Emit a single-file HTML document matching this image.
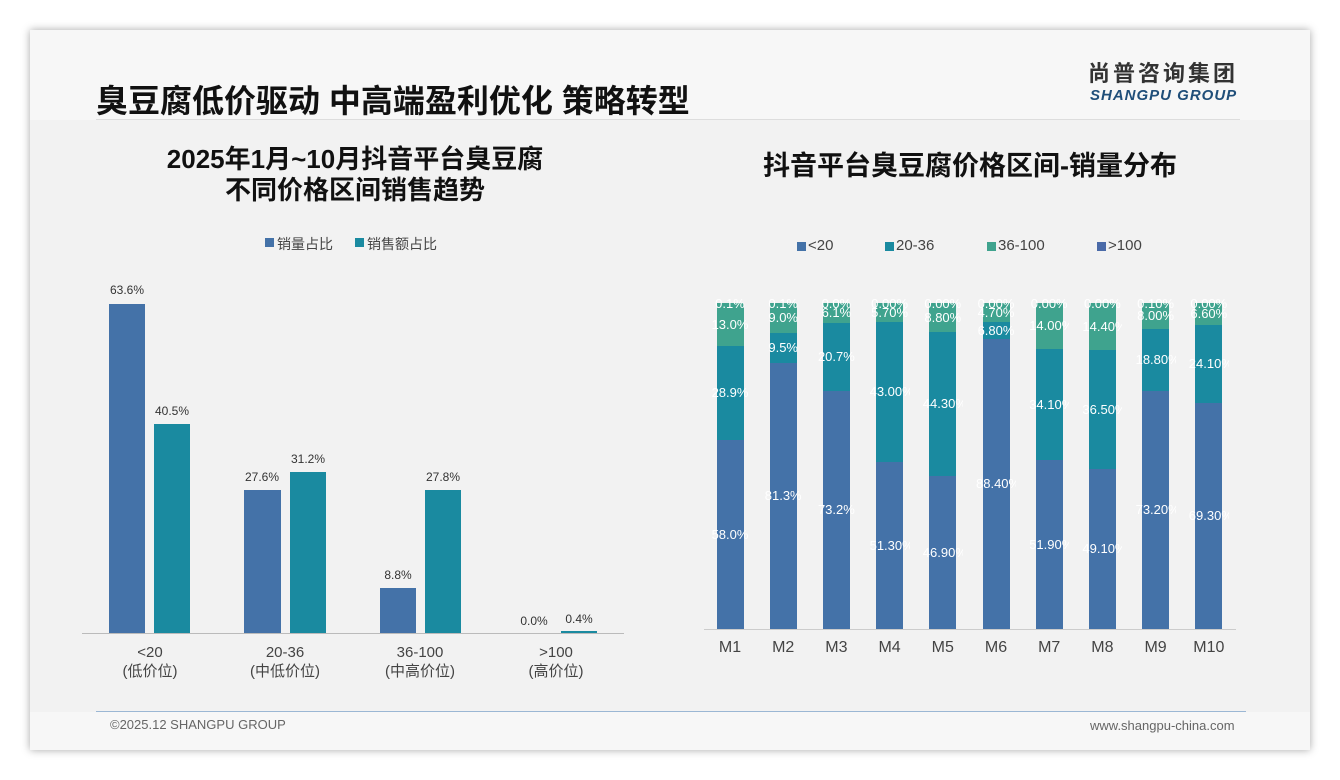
<!DOCTYPE html><html><head><meta charset="utf-8"><style>
body{margin:0;width:1340px;height:780px;background:#fff;font-family:"Liberation Sans","Noto Sans CJK SC",sans-serif;position:relative;overflow:hidden}
.a{position:absolute}
.slide{left:30px;top:30px;width:1280px;height:720px;background:#f7f7f7;box-shadow:0 0 8px rgba(0,0,0,.35)}
.t{white-space:nowrap}
.lbl{font-size:12px;color:#333;text-align:center;width:60px}
.x{font-size:15px;color:#444;text-align:center;width:80px;line-height:19px}
.w{color:#fff;font-size:13px;text-align:center;width:40px;overflow:hidden}
</style></head><body>
<div class="a slide"></div>
<div class="a" style="left:30px;top:120px;width:1280px;height:592px;background:#f2f2f2"></div>
<div class="a t" style="left:96px;top:76px;font-size:32px;font-weight:bold;color:#111">臭豆腐低价驱动 中高端盈利优化 策略转型</div>
<div class="a t" style="left:1088px;top:61px;font-size:22px;line-height:26px;font-weight:bold;color:#333;letter-spacing:3px">尚普咨询集团</div>
<div class="a t" style="left:1090px;top:87px;font-size:15px;font-weight:bold;font-style:italic;color:#1f4e79;letter-spacing:1px">SHANGPU GROUP</div>
<div class="a" style="left:96px;top:119px;width:1144px;height:1px;background:#ddd"></div>
<div class="a" style="left:96px;top:711px;width:1150px;height:1px;background:#9bb7d4"></div>
<div class="a t" style="left:110px;top:717px;font-size:13px;color:#666">©2025.12 SHANGPU GROUP</div>
<div class="a t" style="left:1090px;top:718px;font-size:13px;color:#666">www.shangpu-china.com</div>

<div class="a t" style="left:140px;top:144px;width:430px;text-align:center;font-size:26px;font-weight:bold;color:#111;line-height:31px">2025年1月~10月抖音平台臭豆腐<br>不同价格区间销售趋势</div>
<div class="a" style="left:265px;top:238px;width:9px;height:9px;background:#4472a8"></div>
<div class="a t" style="left:277px;top:234px;font-size:14px;color:#444">销量占比</div>
<div class="a" style="left:355px;top:238px;width:9px;height:9px;background:#1a8aa0"></div>
<div class="a t" style="left:367px;top:234px;font-size:14px;color:#444">销售额占比</div>
<div class="a" style="left:82px;top:633px;width:542px;height:1px;background:#bbb"></div>
<div class="a" style="left:109px;top:304px;width:36px;height:329px;background:#4472a8"></div>
<div class="a" style="left:154px;top:424px;width:36px;height:209px;background:#1a8aa0"></div>
<div class="a" style="left:244px;top:490px;width:37px;height:143px;background:#4472a8"></div>
<div class="a" style="left:290px;top:472px;width:36px;height:161px;background:#1a8aa0"></div>
<div class="a" style="left:380px;top:588px;width:36px;height:45px;background:#4472a8"></div>
<div class="a" style="left:425px;top:490px;width:36px;height:143px;background:#1a8aa0"></div>
<div class="a" style="left:561px;top:631px;width:36px;height:2px;background:#1a8aa0"></div>
<div class="a lbl" style="left:97px;top:283px">63.6%</div>
<div class="a lbl" style="left:142px;top:404px">40.5%</div>
<div class="a lbl" style="left:232px;top:470px">27.6%</div>
<div class="a lbl" style="left:278px;top:452px">31.2%</div>
<div class="a lbl" style="left:368px;top:568px">8.8%</div>
<div class="a lbl" style="left:413px;top:470px">27.8%</div>
<div class="a lbl" style="left:504px;top:614px">0.0%</div>
<div class="a lbl" style="left:549px;top:612px">0.4%</div>
<div class="a x" style="left:110px;top:643px">&lt;20<br>(低价位)</div>
<div class="a x" style="left:245px;top:643px">20-36<br>(中低价位)</div>
<div class="a x" style="left:380px;top:643px">36-100<br>(中高价位)</div>
<div class="a x" style="left:516px;top:643px">&gt;100<br>(高价位)</div>

<div class="a t" style="left:700px;top:144px;width:540px;text-align:center;font-size:27px;font-weight:bold;color:#111">抖音平台臭豆腐价格区间-销量分布</div>
<div class="a" style="left:797px;top:242px;width:9px;height:9px;background:#4472a8"></div><div class="a t" style="left:808px;top:237px;font-size:15px;color:#444">&lt;20</div>
<div class="a" style="left:885px;top:242px;width:9px;height:9px;background:#1a8aa0"></div><div class="a t" style="left:896px;top:237px;font-size:15px;color:#444">20-36</div>
<div class="a" style="left:987px;top:242px;width:9px;height:9px;background:#3fa38e"></div><div class="a t" style="left:998px;top:237px;font-size:15px;color:#444">36-100</div>
<div class="a" style="left:1097px;top:242px;width:9px;height:9px;background:#4a6aa8"></div><div class="a t" style="left:1108px;top:237px;font-size:15px;color:#444">&gt;100</div>
<div class="a" style="left:704px;top:629px;width:532px;height:1px;background:#ccc"></div>
<div id="r"></div>
<script>
var d=[[440,346,"58.0%","28.9%","13.0%","0.1%"],[363,333,"81.3%","9.5%","9.0%","0.1%"],[391,323,"73.2%","20.7%","6.1%","0.0%"],[462,322,"51.30%","43.00%","5.70%","0.00%"],[476,332,"46.90%","44.30%","8.80%","0.00%"],[339,322,"88.40%","6.80%","4.70%","0.00%"],[460,349,"51.90%","34.10%","14.00%","0.00%"],[469,350,"49.10%","36.50%","14.40%","0.00%"],[391,329,"73.20%","18.80%","8.00%","0.10%"],[403,325,"69.30%","24.10%","6.60%","0.00%"]];
var h="";
d.forEach(function(v,i){var cx=730+i*53.2,l=cx-13.5;
h+='<div class="a" style="left:'+l+'px;top:303px;width:27px;height:'+(v[1]-303)+'px;background:#3fa38e"></div>';
h+='<div class="a" style="left:'+l+'px;top:'+v[1]+'px;width:27px;height:'+(v[0]-v[1])+'px;background:#1a8aa0"></div>';
h+='<div class="a" style="left:'+l+'px;top:'+v[0]+'px;width:27px;height:'+(629-v[0])+'px;background:#4472a8"></div>';
var c='left:'+(cx-20)+'px;';
h+='<div class="a w" style="'+c+'top:'+((v[0]+629)/2-8)+'px">'+v[2]+'</div>';
h+='<div class="a w" style="'+c+'top:'+((v[0]+v[1])/2-8)+'px">'+v[3]+'</div>';
h+='<div class="a w" style="'+c+'top:'+((v[1]+303)/2-8)+'px">'+v[4]+'</div>';
h+='<div class="a w" style="'+c+'top:296px">'+v[5]+'</div>';
h+='<div class="a x" style="left:'+(cx-40)+'px;top:638px;font-size:16px">M'+(i+1)+'</div>';});
document.getElementById("r").innerHTML=h;
</script>
</body></html>
